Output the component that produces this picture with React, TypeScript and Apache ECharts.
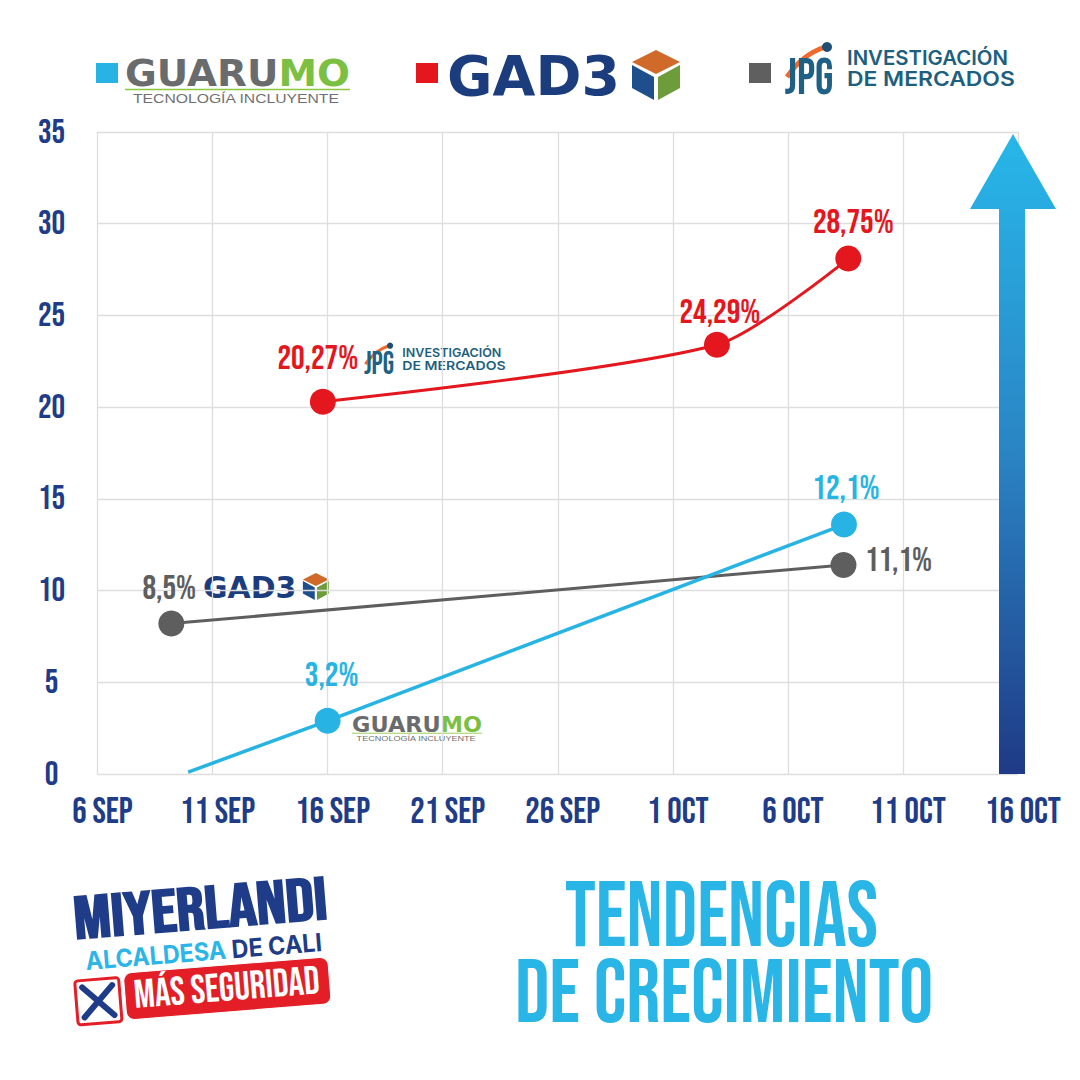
import React, { useEffect, useRef } from "react";
import * as echarts from "echarts";

// ---------- data ----------
const xTickLabels = ["6 SEP", "11 SEP", "16 SEP", "21 SEP", "26 SEP", "1 OCT", "6 OCT", "11 OCT", "16 OCT"];
const axisStart = "2023-09-06T00:00:00Z";
const axisEnd = "2023-10-16T00:00:00Z";

const seriesNames = ["Guarumo", "GAD3", "JPG Investigación de Mercados"];

const blueDates = ["2023-09-09T22:30:00Z", "2023-09-16T00:00:00Z", "2023-10-08T10:30:00Z"];
const blueValues = [0.1, 2.9, 13.6];
const blueLabels = ["", "3,2%", "12,1%"];

const redDates = ["2023-09-15T19:00:00Z", "2023-10-02T22:00:00Z", "2023-10-08T15:00:00Z"];
const redValues = [20.3, 23.4, 28.1];
const redLabels = ["20,27%", "24,29%", "28,75%"];

const grayDates = ["2023-09-09T05:00:00Z", "2023-10-08T10:00:00Z"];
const grayValues = [8.2, 11.4];
const grayLabels = ["8,5%", "11,1%"];

const titleLines = ["TENDENCIAS", "DE CRECIMIENTO"];

// ---------- styling ----------
const COND = "'Bebas Neue','Oswald','Roboto Condensed',sans-serif";
const WIDE = "'DejaVu Sans',sans-serif";
const GEO = "'Inter','Open Sans',sans-serif";
const NAVY = "#1f3c88";
const BLUE = "#27b4e4";
const RED = "#e3171d";
const GRAY = "#5e5e5e";

const DAY = 86400000;
const dayOf = (iso: string) => (Date.parse(iso) - Date.parse(axisStart)) / DAY;

let measureCtx: CanvasRenderingContext2D | null = null;
function fit(text: string, size: number, family: string, weight: string, target: number) {
  if (!measureCtx) measureCtx = document.createElement("canvas").getContext("2d");
  if (!measureCtx) return 1;
  measureCtx.font = `${weight} ${size}px ${family}`;
  const w = measureCtx.measureText(text).width;
  return w > 0 ? target / w : 1;
}

function buildSeries(
  name: string,
  color: string,
  dates: string[],
  values: number[],
  labels: string[],
  offsets: number[][],
  smooth: number | boolean,
  width: number
) {
  return {
    type: "line",
    name,
    smooth,
    symbol: "circle",
    symbolSize: 26,
    lineStyle: { color, width },
    itemStyle: { color },
    label: {
      show: true,
      position: "inside",
      color,
      fontFamily: COND,
      fontWeight: "normal",
      fontSize: 34,
    },
    data: dates.map((d, i) => ({
      value: [dayOf(d), values[i]],
      symbol: labels[i] ? "circle" : "none",
      label: labels[i] ? { formatter: labels[i], offset: offsets[i] } : { show: false },
    })),
  };
}

function guarumoLogo(x: number, y: number, s: number) {
  return {
    type: "group",
    x,
    y,
    scaleX: s,
    scaleY: s,
    children: [
      {
        type: "text",
        x: 0,
        y: 15,
        scaleX: fit("GUARUMO", 38, WIDE, "bold", 225),
        style: {
          text: "{a|GUARU}{b|MO}",
          rich: {
            a: { fill: "#6a6b6d", color: "#6a6b6d", fontSize: 38, fontWeight: "bold", fontFamily: WIDE },
            b: { fill: "#7cc043", color: "#7cc043", fontSize: 38, fontWeight: "bold", fontFamily: WIDE },
          },
          align: "left",
          verticalAlign: "middle",
        },
      },
      { type: "line", shape: { x1: 0, y1: 31.5, x2: 225, y2: 31.5 }, style: { stroke: "#8cc63f", lineWidth: 1.5 } },
      {
        type: "text",
        x: 8,
        y: 40,
        scaleX: fit("TECNOLOGÍA INCLUYENTE", 13, "'Liberation Sans',sans-serif", "normal", 207),
        style: {
          text: "TECNOLOGÍA INCLUYENTE",
          fontSize: 13,
          fontFamily: "'Liberation Sans',sans-serif",
          fill: "#707070",
          align: "left",
          verticalAlign: "middle",
        },
      },
    ],
  };
}

function gadLogo(x: number, y: number, s: number) {
  return {
    type: "group",
    x,
    y,
    scaleX: s,
    scaleY: s,
    children: [
      {
        type: "text",
        x: 0,
        y: 26,
        scaleX: fit("GAD3", 55, WIDE, "bold", 173),
        style: {
          text: "GAD3",
          fontSize: 55,
          fontWeight: "bold",
          fontFamily: WIDE,
          fill: "#1b3d7d",
          align: "left",
          verticalAlign: "middle",
        },
      },
      { type: "polygon", shape: { points: [[209, 0], [233, 12], [209, 24], [185, 12]] }, style: { fill: "#d06a2b" } },
      { type: "polygon", shape: { points: [[185, 15], [207, 27], [207, 50], [185, 38]] }, style: { fill: "#1e4e8c" } },
      { type: "polygon", shape: { points: [[211, 27], [233, 15], [233, 38], [211, 50]] }, style: { fill: "#6e9c3b" } },
    ],
  };
}

function jpgLogo(x: number, y: number, s: number) {
  return {
    type: "group",
    x,
    y,
    scaleX: s,
    scaleY: s,
    children: [
      {
        type: "bezierCurve",
        shape: { x1: 4, y1: 32, cpx1: 16, cpy1: 14, cpx2: 30, cpy2: 6, x2: 42, y2: 2 },
        style: { stroke: "#ee6a2e", lineWidth: 5, fill: null },
      },
      { type: "circle", shape: { cx: 44, cy: 2, r: 5 }, style: { fill: "#1d4f74" } },
      {
        type: "text",
        x: 26,
        y: 33,
        scaleX: fit("JPG", 52, COND, "normal", 49),
        style: {
          text: "JPG",
          fontSize: 52,
          fontFamily: COND,
          fill: "#1e6184",
          align: "center",
          verticalAlign: "middle",
        },
      },
      {
        type: "text",
        x: 64,
        y: 13,
        scaleX: fit("INVESTIGACIÓN", 20, GEO, "600", 161),
        style: {
          text: "INVESTIGACIÓN",
          fontSize: 20,
          fontWeight: 600,
          fontFamily: GEO,
          fill: "#1e5f80",
          align: "left",
          verticalAlign: "middle",
        },
      },
      {
        type: "text",
        x: 64,
        y: 33.5,
        scaleX: fit("DE MERCADOS", 20, GEO, "600", 168),
        style: {
          text: "DE MERCADOS",
          fontSize: 20,
          fontWeight: 600,
          fontFamily: GEO,
          fill: "#1e5f80",
          align: "left",
          verticalAlign: "middle",
        },
      },
    ],
  };
}

function legendSquare(cx: number, cy: number, color: string) {
  return { type: "rect", shape: { x: cx - 11, y: cy - 10, width: 22, height: 20 }, style: { fill: color } };
}

export default function App() {
  const ref = useRef<HTMLDivElement>(null);

  useEffect(() => {
    if (!ref.current) return;
    const chart = echarts.init(ref.current, null, { renderer: "svg" });

    const arrowGradient = new echarts.graphic.LinearGradient(0, 0, 0, 1, [
      { offset: 0, color: "#27b7e9" },
      { offset: 0.5, color: "#2a84c4" },
      { offset: 1, color: "#1f3a86" },
    ]);

    const option = {
      animation: false,
      backgroundColor: "#ffffff",
      grid: { left: 97.5, right: 62, top: 132, bottom: 306, containLabel: false },
      xAxis: {
        type: "value",
        min: 0,
        max: dayOf(axisEnd),
        interval: 5,
        axisLine: { show: false },
        axisTick: { show: false },
        splitLine: { show: true, lineStyle: { color: "#dedede", width: 1.3 } },
        axisLabel: {
          margin: 20,
          padding: [0, 0, 0, 10],
          color: NAVY,
          fontFamily: COND,
          fontSize: 36,
          formatter: (v: number) => xTickLabels[Math.round(v / 5)] ?? "",
        },
      },
      yAxis: {
        type: "value",
        min: 0,
        max: 35,
        interval: 5,
        axisLine: { show: false },
        axisTick: { show: false },
        splitLine: { show: true, lineStyle: { color: "#dedede", width: 1.3 } },
        axisLabel: {
          margin: 46,
          align: "center",
          color: NAVY,
          fontFamily: COND,
          fontSize: 34,
        },
      },
      series: [
        buildSeries(seriesNames[2], GRAY, grayDates, grayValues, grayLabels, [[-2, -35], [55, -4]], false, 3),
        buildSeries(seriesNames[0], BLUE, blueDates, blueValues, blueLabels, [[0, 0], [4, -45], [2, -36]], false, 3.5),
        buildSeries(seriesNames[1], RED, redDates, redValues, redLabels, [[-5, -43], [3, -32], [5, -36]], 0.25, 3),
      ],
      graphic: [
        {
          type: "polygon",
          z: 10,
          shape: {
            points: [
              [1013, 134],
              [1056, 209],
              [1025, 209],
              [1025, 774],
              [999, 774],
              [999, 209],
              [970, 209],
            ],
          },
          style: { fill: arrowGradient },
        },
        legendSquare(107, 73, BLUE),
        guarumoLogo(125, 58, 1),
        legendSquare(427, 73, RED),
        gadLogo(447, 50, 1),
        legendSquare(760, 73, "#5f5f5f"),
        jpgLogo(783, 45, 1),
        jpgLogo(363, 344.5, 0.615),
        gadLogo(203, 573, 0.54),
        guarumoLogo(352, 715, 0.578),
        {
          type: "text",
          x: 721.5,
          y: 918.5,
          scaleX: fit(titleLines[0], 93, COND, "normal", 313),
          style: {
            text: titleLines[0],
            fontSize: 93,
            fontFamily: COND,
            fill: "#29b6e6",
            align: "center",
            verticalAlign: "middle",
          },
        },
        {
          type: "text",
          x: 724,
          y: 994.5,
          scaleX: fit(titleLines[1], 90, COND, "normal", 418),
          style: {
            text: titleLines[1],
            fontSize: 90,
            fontFamily: COND,
            fill: "#29b6e6",
            align: "center",
            verticalAlign: "middle",
          },
        },
        {
          type: "group",
          x: 200,
          y: 955,
          rotation: 0.08,
          children: [
            {
              type: "text",
              x: 4,
              y: -44,
              scaleX: fit("MIYERLANDI", 60, COND, "bold", 254),
              style: {
                text: "MIYERLANDI",
                fontSize: 60,
                fontWeight: "bold",
                fontFamily: COND,
                fill: NAVY,
                align: "center",
                verticalAlign: "middle",
              },
            },
            {
              type: "text",
              x: 4,
              y: -3,
              scaleX: fit("ALCALDESA DE CALI", 25, GEO, "bold", 237),
              style: {
                text: "{a|ALCALDESA }{b|DE CALI}",
                rich: {
                  a: { fill: "#2bb5e8", color: "#2bb5e8", fontSize: 25, fontWeight: "bold", fontFamily: GEO },
                  b: { fill: NAVY, color: NAVY, fontSize: 25, fontWeight: "bold", fontFamily: GEO },
                },
                align: "center",
                verticalAlign: "middle",
              },
            },
            {
              type: "rect",
              shape: { x: -78, y: 12, width: 205, height: 47, r: 8 },
              style: { fill: "#e31e26", stroke: "#ffffff", lineWidth: 1 },
            },
            {
              type: "text",
              x: 24,
              y: 36,
              scaleX: fit("MÁS SEGURIDAD", 40, COND, "normal", 186),
              style: {
                text: "MÁS SEGURIDAD",
                fontSize: 40,
                fontFamily: COND,
                fill: "#ffffff",
                align: "center",
                verticalAlign: "middle",
              },
            },
            {
              type: "rect",
              shape: { x: -127, y: 16, width: 44, height: 44, r: 3 },
              style: { fill: "#ffffff", stroke: "#e31e26", lineWidth: 3 },
            },
            {
              type: "line",
              shape: { x1: -120, y1: 23, x2: -90, y2: 53 },
              style: { stroke: NAVY, lineWidth: 6, lineCap: "round" },
            },
            {
              type: "line",
              shape: { x1: -90, y1: 23, x2: -120, y2: 53 },
              style: { stroke: NAVY, lineWidth: 6, lineCap: "round" },
            },
          ],
        },
      ],
    };

    chart.setOption(option as any);
    return () => chart.dispose();
  }, []);

  return (
    <div
      ref={ref}
      style={{ position: "absolute", left: 0, top: 0, width: 1080, height: 1080, background: "#ffffff" }}
    />
  );
}
